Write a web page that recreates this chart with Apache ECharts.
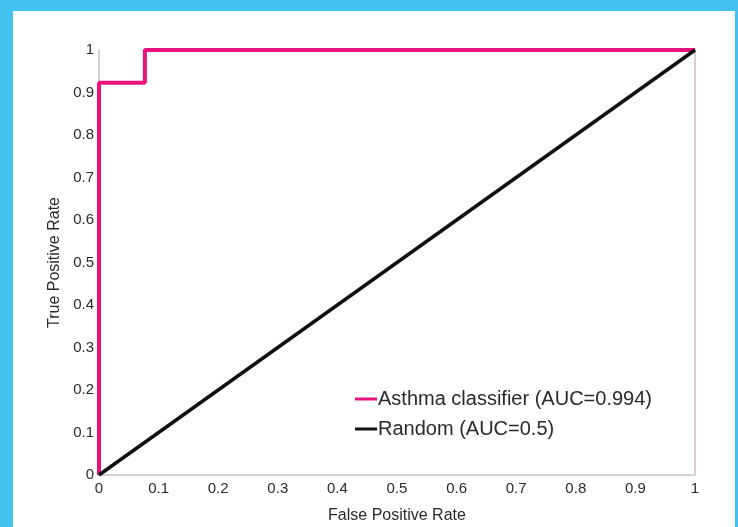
<!DOCTYPE html>
<html>
<head>
<meta charset="utf-8">
<script src="https://cdn.jsdelivr.net/npm/echarts@6/dist/echarts.min.js"></script>
<style>
html,body{margin:0;padding:0;width:738px;height:527px;overflow:hidden;background:#44c3f1;}
#panel{position:absolute;left:13px;top:11px;width:722px;height:516px;background:#ffffff;}
#chart{position:absolute;left:0;top:0;width:738px;height:527px;}
</style>
</head>
<body>
<div id="panel"></div>
<div id="chart"></div>
<script>
// ROC data
const classifierFPR = [0, 0, 0.077, 0.077, 1];
const classifierTPR = [0, 0.923, 0.923, 1, 1];
const randomFPR = [0, 1];
const randomTPR = [0, 1];
const seriesNames = ['Asthma classifier (AUC=0.994)', 'Random (AUC=0.5)'];
const xAxisTitle = 'False Positive Rate';
const yAxisTitle = 'True Positive Rate';

const FONT = '"Liberation Sans", Arial, Helvetica, sans-serif';
const pink = '#e8137e';

const chart = echarts.init(document.getElementById('chart'), null, {renderer: 'canvas'});
chart.setOption({
  backgroundColor: 'transparent',
  animation: false,
  textStyle: {fontFamily: FONT},
  grid: {left: 99, right: 43, top: 50, bottom: 52, containLabel: false, outerBoundsMode: 'none'},
  legend: {
    orient: 'vertical',
    left: 350,
    top: 384,
    itemWidth: 22,
    itemHeight: 3,
    itemGap: 10,
    icon: 'rect',
    textStyle: {fontFamily: FONT, fontSize: 20, color: '#2a2a2a', padding: [0, 0, 0, -4]},
    data: seriesNames
  },
  xAxis: {
    type: 'value', min: 0, max: 1, interval: 0.1,
    name: xAxisTitle, nameLocation: 'middle', nameGap: 33,
    nameTextStyle: {fontFamily: FONT, fontSize: 16, color: '#2a2a2a'},
    axisLine: {show: true, lineStyle: {color: '#d6d0d0', width: 2}},
    axisTick: {show: false},
    splitLine: {show: false},
    axisLabel: {fontFamily: FONT, fontSize: 15, color: '#2a2a2a', margin: 6}
  },
  yAxis: [{
    type: 'value', min: 0, max: 1, interval: 0.1,
    name: yAxisTitle, nameLocation: 'middle', nameGap: 36,
    nameTextStyle: {fontFamily: FONT, fontSize: 16, color: '#2a2a2a'},
    axisLine: {show: true, lineStyle: {color: '#d6d0d0', width: 2}},
    axisTick: {show: false},
    splitLine: {show: false},
    axisLabel: {fontFamily: FONT, fontSize: 15, color: '#2a2a2a', margin: 5}
  }, {
    type: 'value', min: 0, max: 1, interval: 0.1, position: 'right',
    axisLine: {show: true, lineStyle: {color: '#d6d0d0', width: 2}},
    axisTick: {show: false},
    splitLine: {show: false},
    axisLabel: {show: false}
  }],
  series: [{
    name: seriesNames[1],
    type: 'line',
    data: randomFPR.map((x, i) => [x, randomTPR[i]]),
    showSymbol: false,
    symbol: 'none',
    lineStyle: {color: '#111111', width: 3.5},
    itemStyle: {color: '#111111'},
    z: 3
  }, {
    name: seriesNames[0],
    type: 'line',
    data: classifierFPR.map((x, i) => [x, classifierTPR[i]]),
    showSymbol: false,
    symbol: 'none',
    lineStyle: {color: pink, width: 4},
    itemStyle: {color: pink},
    z: 2
  }]
});
</script>
</body>
</html>
